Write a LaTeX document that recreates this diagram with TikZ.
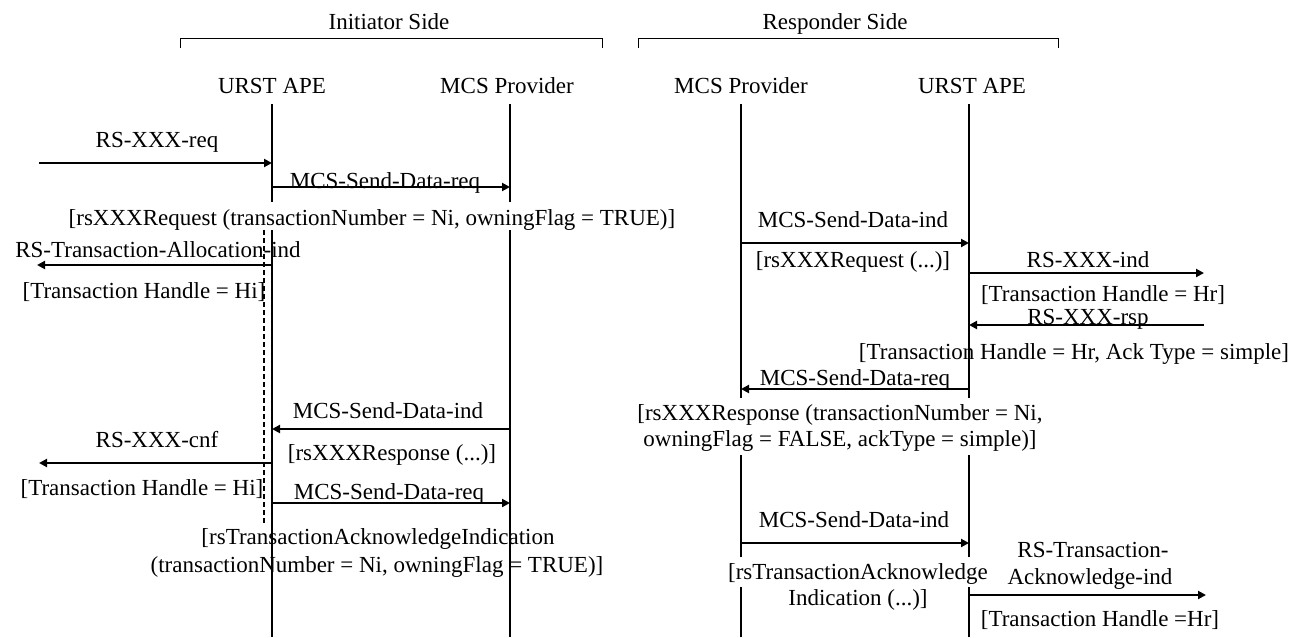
\documentclass[tikz,border=0pt]{standalone}
\usepackage{fontspec}
\setmainfont{Liberation Serif}
\usetikzlibrary{arrows.meta}
\begin{document}
\begin{tikzpicture}[x=1pt,y=-1pt,
  lbl/.style={inner sep=0pt, anchor=base, font=\fontsize{23}{26}\selectfont},
  lifeline/.style={line width=2pt},
  msg/.style={line width=2pt, -{Triangle[length=8pt,width=8pt]}},
  bracketline/.style={line width=1pt},
  dashline/.style={line width=1.6pt, dash pattern=on 5pt off 3pt}]
\useasboundingbox (0,0) rectangle (1305,637);

% side brackets
\node[lbl] (initside) at (389,29) {Initiator Side};
\node[lbl] (respside) at (835,29) {Responder Side};
\coordinate (ib1) at (180,48); \coordinate (ib2) at (180,38);
\coordinate (ib3) at (602,38); \coordinate (ib4) at (602,48);
\draw[bracketline] (ib1) -- (ib2) -- (ib3) -- (ib4);
\coordinate (rb1) at (638,48); \coordinate (rb2) at (638,38);
\coordinate (rb3) at (1058,38); \coordinate (rb4) at (1058,48);
\draw[bracketline] (rb1) -- (rb2) -- (rb3) -- (rb4);

% headers
\node[lbl] (hIU) at (272,93) {URST APE};
\node[lbl] (hIM) at (507,93) {MCS Provider};
\node[lbl] (hRM) at (741,93) {MCS Provider};
\node[lbl] (hRU) at (972,93) {URST APE};

% lifelines
\coordinate (iU0) at (272,104); \coordinate (iU1) at (272,202);
\coordinate (iU2) at (272,230); \coordinate (iU3) at (272,637);
\draw[lifeline] (iU0) -- (iU1) (iU2) -- (iU3);
\coordinate (iM0) at (510,104); \coordinate (iM1) at (510,202);
\coordinate (iM2) at (510,230); \coordinate (iM3) at (510,637);
\draw[lifeline] (iM0) -- (iM1) (iM2) -- (iM3);
\coordinate (rM0) at (741,104); \coordinate (rM1) at (741,398);
\coordinate (rM2) at (741,455); \coordinate (rM3) at (741,557);
\coordinate (rM4) at (741,587); \coordinate (rM5) at (741,637);
\draw[lifeline] (rM0) -- (rM1) (rM2) -- (rM3) (rM4) -- (rM5);
\coordinate (rU0) at (969,104); \coordinate (rU1) at (969,398);
\coordinate (rU2) at (969,455); \coordinate (rU3) at (969,557);
\coordinate (rU4) at (969,587); \coordinate (rU5) at (969,637);
\draw[lifeline] (rU0) -- (rU1) (rU2) -- (rU3) (rU4) -- (rU5);

% dashed line
\coordinate (d0) at (264,230); \coordinate (d1) at (264,525);
\draw[dashline] (d0) -- (d1);

% initiator side messages
\node[lbl] (req) at (157,147) {RS-XXX-req};
\coordinate (a0) at (39,163); \coordinate (a1) at (272,163);
\draw[msg] (a0) -- (a1);

\node[lbl] (sd1) at (385,188) {MCS-Send-Data-req};
\coordinate (b0) at (272,187); \coordinate (b1) at (510,187);
\draw[msg] (b0) -- (b1);

\node[lbl] (rq1) at (372,225) {[rsXXXRequest (transactionNumber = Ni, owningFlag = TRUE)]};

\node[lbl] (alloc) at (158,257) {RS-Transaction-Allocation-ind};
\coordinate (c0) at (272,265); \coordinate (c1) at (37,265);
\draw[msg] (c0) -- (c1);
\node[lbl] (th1) at (144,298) {[Transaction Handle = Hi]};

\node[lbl] (isd) at (388,418) {MCS-Send-Data-ind};
\coordinate (h0) at (510,429); \coordinate (h1) at (272,429);
\draw[msg] (h0) -- (h1);
\node[lbl] (iresp) at (392,460) {[rsXXXResponse (...)]};

\node[lbl] (cnf) at (157,447) {RS-XXX-cnf};
\coordinate (i0) at (272,463); \coordinate (i1) at (39,463);
\draw[msg] (i0) -- (i1);
\node[lbl] (th2) at (142,495) {[Transaction Handle = Hi]};

\node[lbl] (sd3) at (389,499) {MCS-Send-Data-req};
\coordinate (j0) at (272,503); \coordinate (j1) at (510,503);
\draw[msg] (j0) -- (j1);
\node[lbl] (acka) at (378,544) {[rsTransactionAcknowledgeIndication};
\node[lbl] (ackb) at (377,572) {(transactionNumber = Ni, owningFlag = TRUE)]};

% responder side messages
\node[lbl] (rsd1) at (853,227) {MCS-Send-Data-ind};
\coordinate (d2) at (741,243); \coordinate (d3) at (969,243);
\draw[msg] (d2) -- (d3);
\node[lbl] (rrq) at (853,267) {[rsXXXRequest (...)]};

\node[lbl] (ind) at (1088,267) {RS-XXX-ind};
\coordinate (e0) at (969,273); \coordinate (e1) at (1204,273);
\draw[msg] (e0) -- (e1);
\node[lbl] (thr1) at (1103,301) {[Transaction Handle = Hr]};

\node[lbl] (rsp) at (1088,324) {RS-XXX-rsp};
\coordinate (f0) at (1204,325); \coordinate (f1) at (969,325);
\draw[msg] (f0) -- (f1);
\node[lbl] (thr2) at (1074,359) {[Transaction Handle = Hr, Ack Type = simple]};

\node[lbl] (rsd2) at (855,385) {MCS-Send-Data-req};
\coordinate (g0) at (969,389); \coordinate (g1) at (741,389);
\draw[msg] (g0) -- (g1);
\node[lbl] (rrespa) at (840,420) {[rsXXXResponse (transactionNumber = Ni,};
\node[lbl] (rrespb) at (840,446) {owningFlag = FALSE, ackType = simple)]};

\node[lbl] (rsd3) at (854,527) {MCS-Send-Data-ind};
\coordinate (k0) at (741,543); \coordinate (k1) at (969,543);
\draw[msg] (k0) -- (k1);
\node[lbl] (racka) at (858,579) {[rsTransactionAcknowledge};
\node[lbl] (rackb) at (858,605) {Indication (...)]};

\node[lbl] (tacka) at (1093,557) {RS-Transaction-};
\node[lbl] (tackb) at (1090,584) {Acknowledge-ind};
\coordinate (l0) at (969,595); \coordinate (l1) at (1206,595);
\draw[msg] (l0) -- (l1);
\node[lbl] (thr3) at (1100,626) {[Transaction Handle =Hr]};
\end{tikzpicture}
\end{document}
